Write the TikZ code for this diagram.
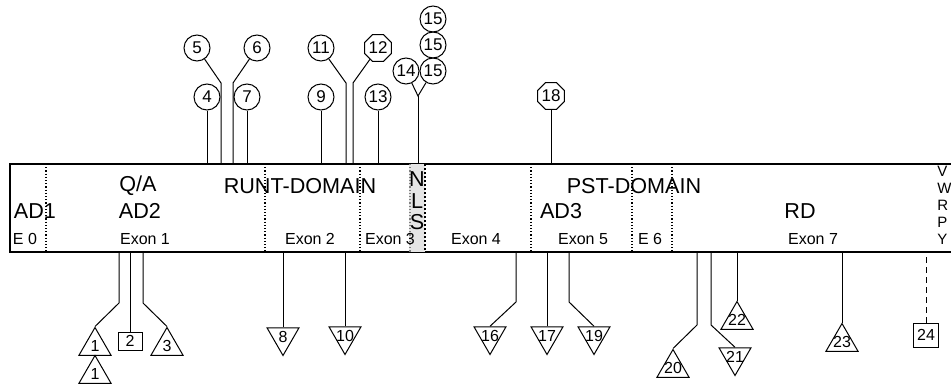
\documentclass[tikz,border=0pt]{standalone}
\usepackage{fontspec}
\setmainfont{Liberation Sans}
\usetikzlibrary{shapes.geometric}

\begin{document}
\begin{tikzpicture}[
  x=0.5pt, y=-0.5pt,
  genebox/.style={draw, line width=0.9pt, minimum width=471.5pt, minimum height=44pt, inner sep=0pt},
  divider/.style={densely dotted, line width=0.6pt},
  dom/.style={font=\fontsize{10.8}{10.75}\selectfont, inner sep=0pt, align=center},
  exon/.style={font=\fontsize{8}{9}\selectfont, inner sep=0pt},
  site/.style={circle, draw, line width=0.5pt, minimum size=13pt, inner sep=0pt,
               font=\fontsize{8.5}{9}\selectfont},
  stopsite/.style={regular polygon, regular polygon sides=8, draw, line width=0.5pt,
               minimum size=14pt, inner sep=0pt, font=\fontsize{8.5}{9}\selectfont},
  trinum/.style={font=\fontsize{8}{9}\selectfont, inner sep=0pt},
  uptri/.style={regular polygon, regular polygon sides=3, draw, line width=0.5pt,
               minimum size=18.5pt, inner sep=0pt, label={[trinum]center:#1}},
  downtri/.style={uptri=#1, shape border rotate=180},
  sqsite/.style={rectangle, draw, line width=0.5pt, inner sep=0pt, font=\fontsize{8}{9}\selectfont},
  link/.style={line width=0.5pt},
]
\useasboundingbox (0,0) rectangle (951,385);

%% Gene box with exon borders
\node[genebox] (gene) at (481.5,208) {};
\fill[gray!20] (409,164) rectangle (425,252);
\draw[divider] (46,164) -- (46,252);
\draw[divider] (265,164) -- (265,252);
\draw[divider] (360,164) -- (360,252);
\draw[divider, gray] (410,164) -- (410,252);
\draw[divider, line width=1pt] (425,164) -- (425,252);
\draw[divider] (531,164) -- (531,252);
\draw[divider] (632,164) -- (632,252);
\draw[divider] (672,164) -- (672,252);

%% Domain labels
\node[dom] (qa)   at (138,186) {Q/A};
\node[dom] (runt) at (300,186) {RUNT-DOMAIN};
\node[dom] (pst)  at (634,186) {PST-DOMAIN};
\node[dom] (ad1)  at (35,211)  {AD1};
\node[dom] (ad2)  at (140,211) {AD2};
\node[dom] (ad3)  at (561,211) {AD3};
\node[dom] (rd)   at (800,211) {RD};
\node[dom] (nls)  at (417,201) {N\\L\\S};
\node[font=\fontsize{7.5}{8.5}\selectfont, inner sep=0pt, align=left, anchor=west] (vwrpy)
  at (937,205) {V\\W\\R\\P\\Y};

%% Exon labels
\node[exon] (e0) at (25,239)  {E 0};
\node[exon] (e1) at (145,239) {Exon 1};
\node[exon] (e2) at (310,239) {Exon 2};
\node[exon] (e3) at (390,239) {Exon 3};
\node[exon] (e4) at (476,239) {Exon 4};
\node[exon] (e5) at (583,239) {Exon 5};
\node[exon] (e6) at (650,239) {E 6};
\node[exon] (e7) at (813,239) {Exon 7};

%% Sites above the box
\node[site] (m4)  at (207,97) {4};
\node[site] (m5)  at (197,48) {5};
\node[site] (m6)  at (257,48) {6};
\node[site] (m7)  at (247,97) {7};
\node[site] (m9)  at (321,97) {9};
\node[site] (m11) at (321,48) {11};
\node[stopsite] (m12) at (378,48) {12};
\node[site] (m13) at (378,97) {13};
\node[site] (m14) at (406,71) {14};
\node[site] (m15a) at (433,71) {15};
\node[site] (m15b) at (433,45) {15};
\node[site] (m15c) at (433,19) {15};
\node[stopsite] (m18) at (551,96) {18};

\coordinate (k5)  at (221,83);
\coordinate (k6)  at (233,83);
\coordinate (k11) at (346,83);
\coordinate (k12) at (353,83);
\coordinate (k14) at (418,96);

\draw[link] (m4.south) -- (m4.south |- gene.north);
\draw[link] (m5) -- (k5) -- (k5 |- gene.north);
\draw[link] (m6) -- (k6) -- (k6 |- gene.north);
\draw[link] (m7.south) -- (m7.south |- gene.north);
\draw[link] (m9.south) -- (m9.south |- gene.north);
\draw[link] (m11) -- (k11) -- (k11 |- gene.north);
\draw[link] (m12) -- (k12) -- (k12 |- gene.north);
\draw[link] (m13.south) -- (m13.south |- gene.north);
\draw[link] (m14) -- (k14) -- (m15a);
\draw[link] (k14) -- (k14 |- gene.north);
\draw[link] (m18.south) -- (m18.south |- gene.north);

%% Sites below the box
\node[uptri=1]    (m1a) at (95,346)  {};
\node[uptri=1]    (m1b) at (95,374)  {};
\node[sqsite, minimum width=12pt, minimum height=9pt] (m2) at (130,341) {2};
\node[uptri=3]    (m3)  at (167,346) {};
\node[downtri=8]  (m8)  at (283,337) {};
\node[downtri=10] (m10) at (345,336) {};
\node[downtri=16] (m16) at (490,336) {};
\node[downtri=17] (m17) at (547,336) {};
\node[downtri=19] (m19) at (594,336) {};
\node[uptri=20]   (m20) at (673,368) {};
\node[downtri=21] (m21) at (735,357) {};
\node[uptri=22]   (m22) at (737,320) {};
\node[uptri=23]   (m23) at (842,342) {};
\node[sqsite, minimum width=12.5pt, minimum height=12pt] (m24) at (926,335) {24};

\coordinate (k1)  at (119,303);
\coordinate (k3)  at (143,303);
\coordinate (k16) at (516,302);
\coordinate (k19) at (569,302);
\coordinate (k20) at (697,325);
\coordinate (k21) at (711,325);

\draw[link] (m1a.north) -- (k1) -- (k1 |- gene.south);
\draw[link] (m2.north) -- (m2.north |- gene.south);
\draw[link] (m3.north) -- (k3) -- (k3 |- gene.south);
\draw[link] (m8.north) -- (m8.north |- gene.south);
\draw[link] (m10.north) -- (m10.north |- gene.south);
\draw[link] (m16.north) -- (k16) -- (k16 |- gene.south);
\draw[link] (m17.north) -- (m17.north |- gene.south);
\draw[link] (m19.north) -- (k19) -- (k19 |- gene.south);
\draw[link] (m20.north) -- (k20) -- (k20 |- gene.south);
\draw[link] (m21.north) -- (k21) -- (k21 |- gene.south);
\draw[link] (m22.north) -- (m22.north |- gene.south);
\draw[link] (m23.north) -- (m23.north |- gene.south);
\draw[link, densely dashed, line width=0.35pt] (m24.north) -- (m24.north |- gene.south);

\end{tikzpicture}
\end{document}
